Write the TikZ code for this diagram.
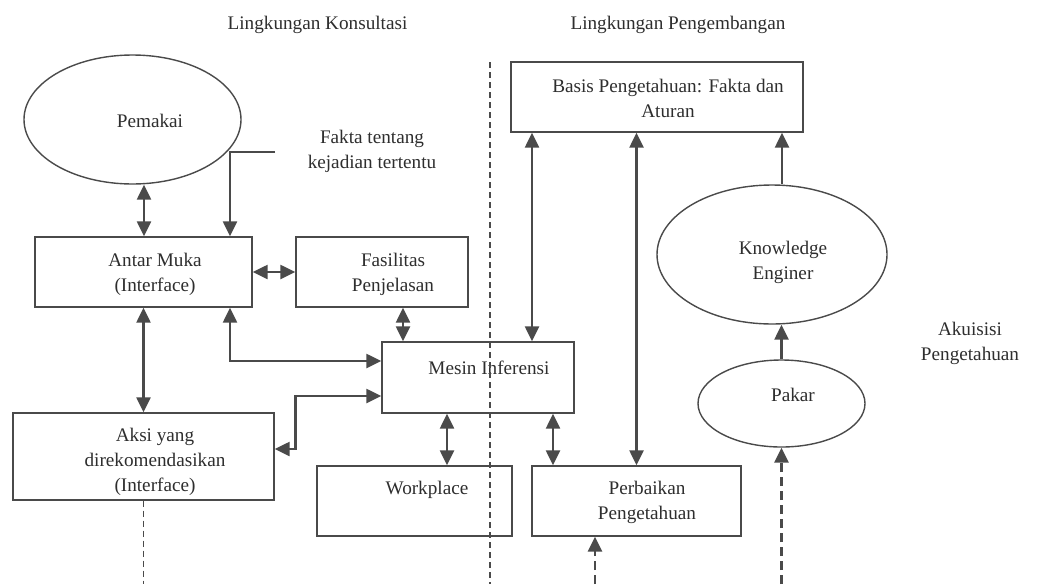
\documentclass[tikz,border=0pt]{standalone}
\usepackage{fontspec}
\setmainfont{Liberation Serif}
\usetikzlibrary{arrows.meta,shapes.geometric}
\definecolor{ln}{HTML}{4A4A4A}
\definecolor{tx}{HTML}{2E2E2E}
\begin{document}
\begin{tikzpicture}[x=1pt,y=-1pt,
 box/.style={draw=ln, line width=1.4pt, inner sep=0pt},
 oval/.style={ellipse, draw=ln, line width=1.4pt, inner sep=0pt},
 txt/.style={text=tx, font=\fontsize{19.2}{25}\selectfont, align=center, inner sep=0pt},
 tip/.tip={Triangle[length=15pt,width=14pt]},
 arr/.style={draw=ln, line width=2.4pt, -tip},
 dbl/.style={draw=ln, line width=2.4pt, tip-tip},
 darr/.style={draw=ln, line width=2.6pt, dash pattern=on 9pt off 5pt, -tip},
 dline/.style={draw=ln, line width=1.2pt, dash pattern=on 6pt off 4pt}]
\useasboundingbox[fill=white] (0,0) rectangle (1043,584);

% titles
\node[txt] (t1) at (317.5,25) {Lingkungan Konsultasi};
\node[txt] (t2) at (678,25) {Lingkungan Pengembangan};

% shapes
\node[oval, minimum width=217pt, minimum height=129pt] (pemakai) at (132.5,119.5) {};
\node[txt] (pemakaiT) at (150,121) {Pemakai};
\node[txt] (fakta) at (372,151) {Fakta tentang\\kejadian tertentu};

\node[box, minimum width=217pt, minimum height=70pt] (antar) at (143.5,272) {};
\node[txt] (antarT) at (155,274.5) {Antar Muka\\(Interface)};

\node[box, minimum width=172pt, minimum height=70pt] (fasil) at (382,272) {};
\node[txt] (fasilT) at (393,274.5) {Fasilitas\\Penjelasan};

\node[box, minimum width=192pt, minimum height=71pt] (mesin) at (478,377.5) {};
\node[txt] (mesinT) at (489,368) {Mesin Inferensi};

\node[box, minimum width=261pt, minimum height=87pt] (aksi) at (143.5,456.5) {};
\node[txt] (aksiT) at (155,462) {Aksi yang\\direkomendasikan\\(Interface)};

\node[box, minimum width=195pt, minimum height=70pt] (work) at (414.5,501) {};
\node[txt] (workT) at (427,490) {Workplace};

\node[box, minimum width=209pt, minimum height=70pt] (perb) at (636.5,501) {};
\node[txt] (perbT) at (647,502.5) {Perbaikan\\Pengetahuan};

\node[box, minimum width=292pt, minimum height=70pt] (basis) at (657,97) {};
\node[txt] (basisT) at (668,98.5) {Basis Pengetahuan: Fakta dan\\Aturan};

\node[oval, minimum width=230pt, minimum height=139pt] (ke) at (772,254.5) {};
\node[txt] (keT) at (783,262.5) {Knowledge\\Enginer};

\node[oval, minimum width=167pt, minimum height=87pt] (pakar) at (781.5,403.5) {};
\node[txt] (pakarT) at (793,395) {Pakar};

\node[txt] (akuisisi) at (970,343.5) {Akuisisi\\Pengetahuan};

% free ends
\coordinate (fk) at (275,152);
\coordinate (div1) at (490,62);
\coordinate (div2) at (490,584);
\coordinate (akout) at (143.5,584);
\coordinate (pbin) at (595,584);
\coordinate (pkin) at (781.5,584);

% divider
\draw[dline] (div1) -- (div2);

% connectors
\draw[dbl] ([xshift=11.5pt]pemakai.south) -- ([xshift=11.5pt]pemakai.south |- antar.north);
\draw[arr] (fk) -| ([xshift=86.5pt]antar.north);
\draw[dbl] (antar.east) -- (fasil.west);
\draw[dbl] ([xshift=21pt]fasil.south) -- ([xshift=21pt]fasil.south |- mesin.north);
\draw[dbl] ([xshift=86.5pt]antar.south) |- ([yshift=16.5pt]mesin.west);
\draw[dbl] ([yshift=-18.5pt]mesin.west) -- ++(-86,0) |- ([yshift=7.5pt]aksi.east);
\draw[dbl] (antar.south) -- (aksi.north);
\draw[dbl] ([xshift=-31pt]mesin.south) -- ([xshift=-31pt]mesin.south |- work.north);
\draw[dbl] ([xshift=75pt]mesin.south) -- ([xshift=75pt]mesin.south |- perb.north);
\draw[dbl] ([xshift=-125pt]basis.south) -- ([xshift=-125pt]basis.south |- mesin.north);
\draw[dbl] (perb.north) -- (perb.north |- basis.south);
\draw[arr] ([xshift=10pt]ke.north) -- ([xshift=10pt]ke.north |- basis.south);
\draw[arr] (pakar.north) -- (pakar.north |- ke.south);
\draw[darr] (pkin) -- (pakar.south);
\draw[darr] (pbin) -- (pbin |- perb.south);
\draw[dline] (aksi.south) -- (akout);
\end{tikzpicture}
\end{document}
